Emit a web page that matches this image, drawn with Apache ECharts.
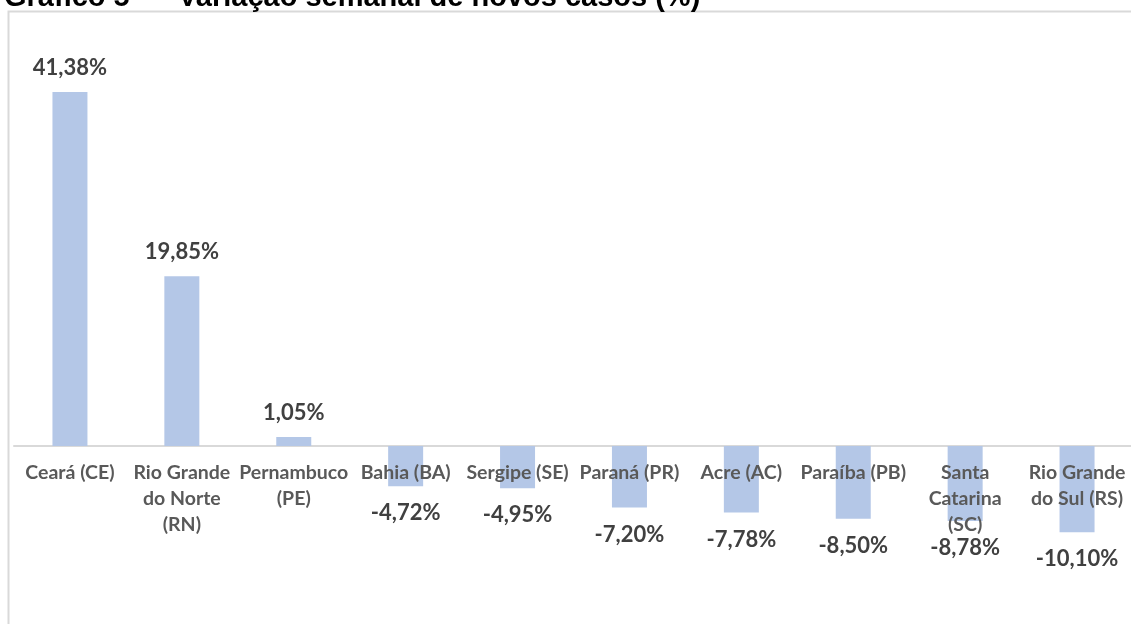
<!DOCTYPE html>
<html>
<head>
<meta charset="utf-8">
<script src="https://cdn.jsdelivr.net/npm/echarts@6/dist/echarts.min.js"></script>
<style>
html,body{margin:0;padding:0;background:#fff;}
#chart{width:1131px;height:624px;}
</style>
</head>
<body>
<div id="chart"></div>
<script>
var titleText = 'Gráfico 5  –  Variação semanal de novos casos (%)';
var categories = ['Ceará (CE)', 'Rio Grande\ndo Norte\n(RN)', 'Pernambuco\n(PE)', 'Bahia (BA)', 'Sergipe (SE)', 'Paraná (PR)', 'Acre (AC)', 'Paraíba (PB)', 'Santa\nCatarina\n(SC)', 'Rio Grande\ndo Sul (RS)'];
var values = [41.38, 19.85, 1.05, -4.72, -4.95, -7.20, -7.78, -8.50, -8.78, -10.10];
var yMin = -20, yMax = 45;

var chart = echarts.init(document.getElementById('chart'), null, {renderer: 'canvas'});
var seriesData = values.map(function (v) {
  return {
    value: v,
    label: { position: v >= 0 ? 'top' : 'bottom', distance: v >= 0 ? 13 : 16 }
  };
});
var gridLeft = 14, gridTop = 61, gridWidth = 1119, gridHeight = 556;
var zeroHeight = gridHeight * yMax / (yMax - yMin);
chart.setOption({
  animation: false,
  backgroundColor: '#ffffff',
  graphic: [
    { type: 'rect', shape: { x: 8.5, y: 11.5, width: 1200, height: 700 }, style: { fill: 'none', stroke: '#d9d9d9', lineWidth: 2 }, z: 0, silent: true },
    { type: 'text', style: { text: titleText, x: 4, y: 12, font: 'bold 29px "Liberation Sans", Arial, sans-serif', fill: '#000000', verticalAlign: 'bottom' }, z: 10 }
  ],
  grid: [
    { left: gridLeft, top: gridTop, width: gridWidth, height: gridHeight, containLabel: false, outerBoundsMode: 'none' },
    { left: gridLeft, top: gridTop, width: gridWidth, height: zeroHeight, containLabel: false, outerBoundsMode: 'none' }
  ],
  xAxis: [{
    type: 'category',
    gridIndex: 0,
    data: categories,
    axisLine: { onZero: true, lineStyle: { color: '#d9d9d9', width: 2 } },
    axisTick: { show: false },
    axisLabel: { show: false }
  }, {
    type: 'category',
    gridIndex: 1,
    data: categories,
    z: 5,
    axisLine: { show: false },
    axisTick: { show: false },
    axisLabel: {
      interval: 0,
      margin: 14,
      color: '#595959',
      fontFamily: 'Lato',
      fontWeight: 'bold',
      fontSize: 19.5,
      lineHeight: 26,
      align: 'center'
    }
  }],
  yAxis: [{
    type: 'value',
    gridIndex: 0,
    min: yMin,
    max: yMax,
    show: false,
    splitLine: { show: false }
  }, {
    type: 'value',
    gridIndex: 1,
    min: 0,
    max: yMax,
    show: false,
    splitLine: { show: false }
  }],
  series: [{
    type: 'bar',
    xAxisIndex: 0,
    yAxisIndex: 0,
    data: seriesData,
    barWidth: 35,
    itemStyle: { color: '#b4c7e7' },
    label: {
      show: true,
      color: '#404040',
      fontFamily: 'Lato',
      fontWeight: 'bold',
      fontSize: 22,
      formatter: function (p) { return p.value.toFixed(2).replace('.', ',') + '%'; }
    }
  }]
});
</script>
</body>
</html>
